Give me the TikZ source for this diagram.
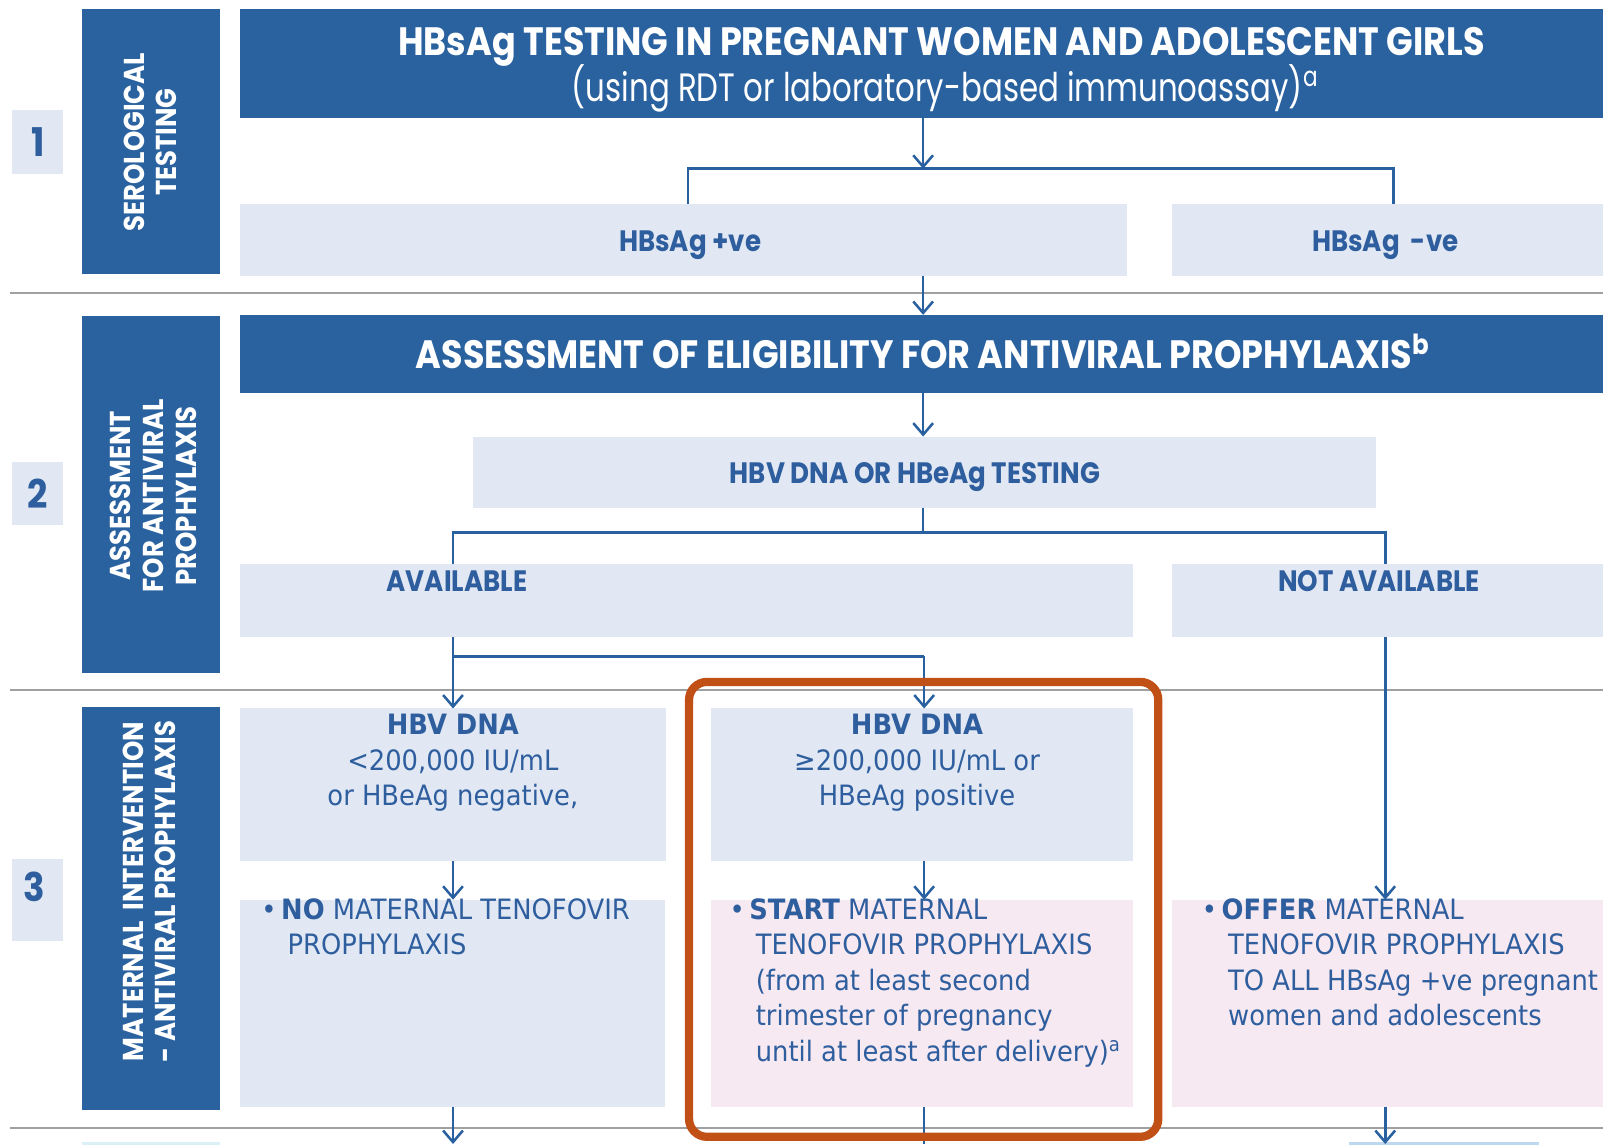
\documentclass[tikz,border=0pt]{standalone}
\usepackage{fontspec}
\setmainfont{DejaVu Sans}[FakeStretch=0.92]
\newfontfamily\headfont{Poppins}[FakeStretch=0.78]
\newfontfamily\headboldfont{Poppins}[FakeStretch=0.885]
\newfontfamily\sidefont{Poppins}[FakeStretch=0.9]
\usetikzlibrary{arrows.meta}
\definecolor{whoBlue}{RGB}{42,98,160}
\definecolor{boxBlue}{RGB}{225,232,244}
\definecolor{boxPink}{RGB}{247,233,241}
\definecolor{textBlue}{RGB}{46,94,158}
\definecolor{lineBlue}{RGB}{40,96,160}
\definecolor{lineGrey}{RGB}{160,160,160}
\definecolor{hiOrange}{RGB}{192,80,22}
\definecolor{sliverCyan}{RGB}{220,240,248}
\definecolor{sliverBlue}{RGB}{190,216,242}
\newcommand{\bul}{\makebox[5.5pt][l]{\textbullet}}
\newcommand{\ind}{\hspace*{7.3pt}}

\begin{document}
\begin{tikzpicture}[x=0.01cm, y=-0.01cm,
    panel/.style={anchor=north west, inner sep=0pt, outer sep=0pt},
    darkpanel/.style={panel, fill=whoBlue},
    lightpanel/.style={panel, fill=boxBlue},
    pinkpanel/.style={panel, fill=boxPink},
    sidelabel/.style={text=white, align=center, rotate=90, inner sep=0pt,
      font=\sidefont\bfseries\fontsize{8}{9.1}\selectfont},
    numlabel/.style={text=textBlue, font=\sidefont\bfseries\fontsize{11}{12}\selectfont},
    titletext/.style={text=white, font=\headboldfont\bfseries\fontsize{11}{12}\selectfont},
    titlesub/.style={text=white, font=\headfont\fontsize{11}{12}\selectfont},
    boxtext/.style={text=textBlue, font=\headboldfont\bfseries\fontsize{8.2}{10}\selectfont},
    bodytext/.style={text=textBlue, inner sep=0pt, font=\fontsize{7.8}{9.9}\selectfont},
    conn/.style={draw=lineBlue, line width=0.7pt},
    arr/.style={conn, -{Straight Barb[length=3.2pt,width=5.5pt]}},
    sep/.style={draw=lineGrey, line width=0.6pt}]

  \clip (0,0) rectangle (1568,1120);

  % section separators
  \draw[sep] (10,287) -- (1568,287);
  \draw[sep] (10,675) -- (1568,675);
  \draw[sep] (10,1103) -- (1568,1103);

  % step numbers
  \node[lightpanel, numlabel, minimum width=0.5cm, minimum height=0.62cm] (n1) at (12,108) {1};
  \node[lightpanel, numlabel, minimum width=0.5cm, minimum height=0.61cm] (n2) at (12,452) {2};
  \node[lightpanel, minimum width=0.5cm, minimum height=0.8cm] (n3) at (12,840) {};
  \node[numlabel] (n3t) at (34,867) {3};

  % side headings
  \node[darkpanel, minimum width=1.35cm, minimum height=2.59cm] (side1) at (80,9) {};
  \node[darkpanel, minimum width=1.35cm, minimum height=3.49cm] (side2) at (80,309) {};
  \node[darkpanel, minimum width=1.35cm, minimum height=3.94cm] (side3) at (80,692) {};
  \node[sidelabel] (side1t) at (147,139) {SEROLOGICAL\\TESTING};
  \node[sidelabel] (side2t) at (150,485) {ASSESSMENT\\FOR ANTIVIRAL\\PROPHYLAXIS};
  \node[sidelabel] (side3t) at (146,872) {MATERNAL\ \ INTERVENTION\\- ANTIVIRAL PROPHYLAXIS};

  % step 1
  \node[darkpanel, minimum width=13.33cm, minimum height=1.06cm] (t1) at (235,9) {};
  \node[titletext] (t1a) at (921,46) {HBsAg TESTING IN PREGNANT WOMEN AND ADOLESCENT GIRLS};
  \node[titlesub] (t1b) at (925,86) {(using RDT or laboratory-based immunoassay)\textsuperscript{a}};
  \node[lightpanel, minimum width=8.67cm, minimum height=0.7cm] (pos) at (235,200) {};
  \node[lightpanel, minimum width=4.22cm, minimum height=0.7cm] (neg) at (1146,200) {};
  \node[boxtext] (post) at (675,240) {HBsAg +ve};
  \node[boxtext] (negt) at (1355,240) {HBsAg\ \ -ve};

  % step 2
  \node[darkpanel, minimum width=13.33cm, minimum height=0.76cm] (t2) at (235,308) {};
  \node[titletext] (t2a) at (903,344) {ASSESSMENT OF ELIGIBILITY FOR ANTIVIRAL PROPHYLAXIS\textsuperscript{b}};
  \node[lightpanel, minimum width=8.82cm, minimum height=0.7cm] (dna) at (463,427) {};
  \node[boxtext] (dnat) at (895,467) {HBV DNA OR HBeAg TESTING};
  \node[lightpanel, minimum width=8.73cm, minimum height=0.71cm] (avail) at (235,552) {};
  \node[lightpanel, minimum width=4.22cm, minimum height=0.71cm] (navail) at (1146,552) {};
  \node[boxtext] (availt) at (447,568) {AVAILABLE};
  \node[boxtext] (navailt) at (1349,568) {NOT AVAILABLE};

  % step 3
  \node[lightpanel, minimum width=4.16cm, minimum height=1.49cm] (lo) at (235,693) {};
  \node[lightpanel, minimum width=4.13cm, minimum height=1.49cm] (hi) at (695,693) {};
  \node[lightpanel, minimum width=4.15cm, minimum height=2.03cm] (no) at (235,880) {};
  \node[pinkpanel, minimum width=4.13cm, minimum height=2.03cm] (start) at (695,880) {};
  \node[pinkpanel, minimum width=4.22cm, minimum height=2.03cm] (offer) at (1146,880) {};

  \node[bodytext, anchor=north, align=center] (lot) at (443,698)
    {\textbf{HBV DNA}\\<200,000 IU/mL\\or HBeAg negative,};
  \node[bodytext, anchor=north, align=center] (hit) at (897,698)
    {\textbf{HBV DNA}\\≥200,000 IU/mL or\\HBeAg positive};
  \node[bodytext, anchor=north west, align=left] (not) at (255,878)
    {\bul\textbf{NO} MATERNAL TENOFOVIR\\\ind PROPHYLAXIS};
  \node[bodytext, anchor=north west, align=left] (startt) at (713,878)
    {\bul\textbf{START} MATERNAL\\\ind TENOFOVIR PROPHYLAXIS\\\ind (from at least second\\\ind trimester of pregnancy\\\ind until at least after delivery)\textsuperscript{a}};
  \node[bodytext, anchor=north west, align=left] (offert) at (1175,878)
    {\bul\textbf{OFFER} MATERNAL\\\ind TENOFOVIR PROPHYLAXIS\\\ind TO ALL HBsAg +ve pregnant\\\ind women and adolescents};

  % next step (cut off)
  \fill[sliverCyan] (80,1117) rectangle (215,1130);
  \fill[sliverBlue] (1320,1117) rectangle (1505,1130);

  % connectors
  \coordinate (s1) at (903,165);
  \coordinate (s1l) at (673,165);
  \coordinate (s1r) at (1363,165);
  \coordinate (s2) at (903,521);
  \coordinate (s2r) at (1355,521);
  \coordinate (s3) at (904,642);
  \coordinate (bot) at (0,1119);

  \draw[arr] (s1 |- t1.south) -- (s1);
  \draw[conn] (s1l |- pos.north) -- (s1l) -- (s1r) -- (s1r |- neg.north);
  \draw[arr] (s1 |- pos.south) -- (s1 |- t2.north);
  \draw[arr] (s1 |- t2.south) -- (s1 |- dna.north);
  \draw[conn] (s2 |- dna.south) -- (s2);
  \draw[conn] (lo.north |- avail.north) -- (lo.north |- s2) -- (s2r) -- (s2r |- navail.north);
  \draw[arr] (lo.north |- avail.south) -- (lo.north);
  \draw[conn] (lo.north |- s3) -- (s3);
  \draw[arr] (s3) -- (s3 |- hi.north);
  \draw[arr] (s2r |- navail.south) -- (s2r |- offer.north);
  \draw[arr] (lo.south) -- (lo.south |- no.north);
  \draw[arr] (s3 |- hi.south) -- (s3 |- start.north);
  \draw[arr] (lo.south |- no.south) -- (lo.south |- bot);
  \draw[conn] (s3 |- start.south) -- (s3 |- bot);
  \draw[arr] (s2r |- offer.south) -- (s2r |- bot);

  % highlight
  \draw[hiOrange, line width=2.3pt, rounded corners=5pt] (674,667) rectangle (1133,1112);
\end{tikzpicture}
\end{document}
